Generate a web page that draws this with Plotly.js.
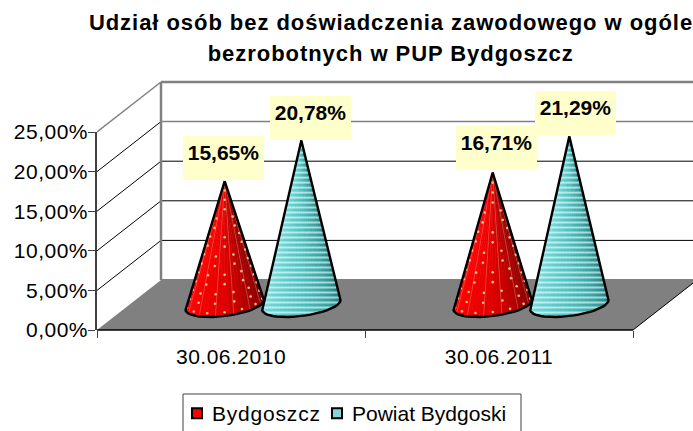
<!DOCTYPE html>
<html><head><meta charset="utf-8">
<script src="https://cdn.plot.ly/plotly-3.0.1.min.js"></script>
<style>html,body{margin:0;padding:0;background:#fff;overflow:hidden}#c{width:693px;height:431px}
.gtitle{letter-spacing:.95px}
.annotation[data-index="4"] text{letter-spacing:.95px}
.xtick text,.ytick text{letter-spacing:.5px}
.legendtext{letter-spacing:.8px}
.legendpoints{transform:translateX(5px)}
</style>
</head><body><div id="c"></div>
<script>
const categories = ["30.06.2010", "30.06.2011"];
const bydgoszcz = [15.65, 16.71];
const powiat = [20.78, 21.29];
const seriesNames = ["Bydgoszcz", "Powiat Bydgoski"];
const yTicks = [0, 5, 10, 15, 20, 25];
const yTickLabels = ["0,00%", "5,00%", "10,00%", "15,00%", "20,00%", "25,00%"];
const titleLine1 = "Udział osób bez doświadczenia zawodowego w ogóle";
const titleLine2 = "bezrobotnych w PUP Bydgoszcz";

// pixel geometry of the box: main axes 536x198, plot area 596x256
const W = 596, H = 256, axW = 536, axH = 198, pad = 6;
const pxX = axW / 2, pxY = axH / 25;
const depthX = 64 / pxX, depthY = 50 / pxY;
const proj = (x, v, d) => [x + d * depthX, v + d * depthY];

const traces = [];
function poly(pts, opt) {
  traces.push(Object.assign({
    type: "scatter", mode: "lines", xaxis: "x2", yaxis: "y2",
    x: pts.map(p => p ? p[0] : null), y: pts.map(p => p ? p[1] : null),
    showlegend: false, hoverinfo: "skip"
  }, opt));
}
const solid = (c, w) => ({ line: { color: c, width: w } });

// floor and walls
poly([proj(0,0,0), proj(2,0,0), proj(2,0,1), proj(0,0,1), proj(0,0,0)],
  { fill: "toself", fillcolor: "#808080", line: { width: 0, color: "#808080" } });
yTicks.slice(1).forEach(v => {
  const edge = (v === 20 || v === 25) ? "#808080" : "#000000";
  poly([proj(0,v,0), proj(0,v,1)], solid(v === 25 ? "#808080" : "#000000", v === 25 ? 1.5 : 1));
  poly([proj(0,v,1), proj(2.3,v,1)], solid(edge, v === 25 ? 2.5 : (v === 20 ? 1.5 : 1)));
});
poly([proj(0,0,1), proj(0,25,1)], solid("#808080", 2.5));
poly([proj(0,0,1), proj(2.3,0,1)], solid("#808080", 2));
poly([proj(2,0,0), proj(2,0,1)], solid("#000000", 1));
poly([proj(0,0,0), proj(2,0,0)], solid("#000000", 1.5));

const lerp = (a, b, f) => [a[0] + (b[0] - a[0]) * f, a[1] + (b[1] - a[1]) * f];
function ramp(stops, f) {
  const n = stops.length - 1, i = Math.min(n - 1, Math.floor(f * n)), g = f * n - i;
  const c = stops[i].map((s, k) => Math.round(s + (stops[i + 1][k] - s) * g));
  return `rgb(${c[0]},${c[1]},${c[2]})`;
}

// cone: apex + tangent points + front arc of the base ellipse
const rx = 36 / pxX, rd = 0.24, dc = 0.5;
function cone(xc, value, kind) {
  const A = proj(xc, value, dc);
  const ell = t => proj(xc + rx * Math.cos(t), 0, dc + rd * Math.sin(t));
  let tR = 0, tL = 0, best = -1e9, worst = 1e9;
  for (let i = 0; i < 720; i++) {
    const t = i * Math.PI / 360, p = ell(t);
    const r = (p[0] - A[0]) / (A[1] - p[1]);
    if (r > best) { best = r; tR = t; }
    if (r < worst) { worst = r; tL = t; }
  }
  if (tR > Math.PI) tR -= 2 * Math.PI;
  if (tL > 0) tL -= 2 * Math.PI;
  const N = 28, arc = [];
  for (let i = 0; i <= N; i++) arc.push(ell(tL + (tR - tL) * i / N));
  const stops = kind === 0
    ? [[255,10,10],[250,0,0],[225,0,0],[165,0,0],[115,0,0]]
    : [[150,228,228],[105,212,212],[80,192,192],[55,160,160],[20,110,110]];
  for (let i = 0; i < N; i++) {
    const c = ramp(stops, (i + 0.5) / N);
    poly([A, arc[i], arc[i + 1], A], { fill: "toself", fillcolor: c, line: { color: c, width: 0.6 } });
  }
  const outline = [A].concat(arc, [A]);
  if (kind === 1) {
    const seg = [], step = 5 / pxY;
    for (let y = 0.3; y < A[1]; y += step) {
      let lo = 1e9, hi = -1e9;
      for (let i = 0; i < outline.length - 1; i++) {
        const a = outline[i], b = outline[i + 1];
        if ((a[1] - y) * (b[1] - y) <= 0 && a[1] !== b[1]) {
          const x = a[0] + (b[0] - a[0]) * (y - a[1]) / (b[1] - a[1]);
          lo = Math.min(lo, x); hi = Math.max(hi, x);
        }
      }
      if (hi > lo) seg.push([lo, y], [hi, y], null);
    }
    poly(seg, solid("rgba(240,255,255,0.62)", 2));
  } else {
    const ribs = [], dots = [];
    for (let i = 1; i < 7; i++) { ribs.push(A, arc[Math.round(i * N / 7)], null); }
    poly(ribs, solid("rgba(255,190,170,0.30)", 1));
    for (let r = 1; r <= 14; r++) {
      const f = r / 14.4, n = Math.max(1, Math.round(f * 7));
      for (let j = 0; j < n; j++) {
        const q = (j + 0.5) / n * N, i0 = Math.floor(q);
        dots.push(lerp(A, lerp(arc[i0], arc[Math.min(N, i0 + 1)], q - i0), f));
      }
    }
    traces.push({ type: "scatter", mode: "markers", xaxis: "x2", yaxis: "y2", x: dots.map(p => p[0]), y: dots.map(p => p[1]),
      showlegend: false, hoverinfo: "skip", marker: { size: 2.6, color: "#f0c080", line: { width: 0 } } });
  }
  poly(outline, { line: { color: "#000000", width: 2.4 } });
  return A;
}

const annotations = [];
const offs = [-0.143, 0.143];
const labelDx = [[-1.5, 9], [3.5, 6]], labelDy = [[1, 0], [3, 1]];
categories.forEach((cat, i) => {
  [bydgoszcz, powiat].forEach((vals, s) => {
    const A = cone(i + 0.5 + offs[s], vals[i], s);
    annotations.push({
      x: A[0], y: A[1], xref: "x2", yref: "y2", xanchor: "center", yanchor: "bottom", showarrow: false,
      text: "<b>" + vals[i].toFixed(2).replace(".", ",") + "%</b>",
      font: { family: "Liberation Sans", size: 21, color: "#000" },
      bgcolor: "#ffffcc", borderwidth: 0, width: 71, height: 34, borderpad: 5, valign: "top",
      xshift: labelDx[i][s], yshift: labelDy[i][s]
    });
  });
});
// second title line, placed at the reference's wider line spacing
annotations.push({
  text: "<b>" + titleLine2 + "</b>", xref: "paper", yref: "paper", x: (390 - 97) / W, y: (336 - 53) / H,
  xanchor: "center", yanchor: "middle", showarrow: false, font: { family: "Liberation Sans", size: 22, color: "#000" }
});

["#ff0000", "#7fd8d8"].forEach((c, s) => {
  traces.push({ type: "scatter", mode: "markers", x: [null], y: [null], name: seriesNames[s],
    legend: s ? "legend2" : "legend",
    marker: { symbol: "square", size: 10, color: c, line: { color: "#000", width: 2 } } });
});
const legendBase = { xref: "container", yref: "container", y: 1 - 393 / 431, xanchor: "left", yanchor: "top",
  bgcolor: "rgba(0,0,0,0)", borderwidth: 0, font: { size: 21 } };

const layout = {
  width: 693, height: 431, paper_bgcolor: "#fff", plot_bgcolor: "rgba(0,0,0,0)",
  margin: { l: 97, r: 0, t: 80, b: 95, pad: 0, autoexpand: false },
  font: { family: "Liberation Sans", size: 21, color: "#000" },
  title: { text: "<b>" + titleLine1 + "</b>", font: { family: "Liberation Sans", size: 22, color: "#000" },
    x: 391 / 693, xref: "container", xanchor: "center", y: 1 - 15 / 431, yref: "container", yanchor: "top" },
  xaxis: {
    domain: [0, axW / W], range: [0, 2], anchor: "y",
    tickmode: "array", tickvals: categories.map((_, i) => i + 0.5), ticktext: categories,
    ticks: "", showgrid: false, zeroline: false, showline: false, ticklabelstandoff: 12, fixedrange: true,
    minor: { tickmode: "array", tickvals: [0, 1, 2], ticks: "outside", ticklen: 7, tickwidth: 1, tickcolor: "#404040", showgrid: false }
  },
  yaxis: {
    domain: [pad / H, (pad + axH) / H], range: [0, 25], anchor: "x",
    tickmode: "array", tickvals: yTicks, ticktext: yTickLabels, ticks: "outside", ticklen: 7, tickwidth: 1,
    tickcolor: "#404040", showline: true, linecolor: "#404040", linewidth: 1.5, showgrid: false, zeroline: false,
    ticklabelstandoff: -4, fixedrange: true
  },
  xaxis2: { domain: [0, 1], range: [0, W / pxX], anchor: "y2", visible: false, fixedrange: true },
  yaxis2: { domain: [0, 1], range: [-pad / pxY, (H - pad) / pxY], anchor: "x2", visible: false, fixedrange: true },
  showlegend: true,
  legend: Object.assign({ x: 172 / 693 }, legendBase),
  legend2: Object.assign({ x: 312 / 693 }, legendBase),
  shapes: [{ type: "path", xref: "paper", yref: "paper",
    path: `M ${(183 - 97) / W} ${-95.5 / H} L ${(183 - 97) / W} ${-58 / H} L ${(521 - 97) / W} ${-58 / H} L ${(521 - 97) / W} ${-95.5 / H}`,
    line: { color: "#404040", width: 1 } }],
  annotations
};
Plotly.newPlot("c", traces, layout, { displayModeBar: false, responsive: false });
</script></body></html>
